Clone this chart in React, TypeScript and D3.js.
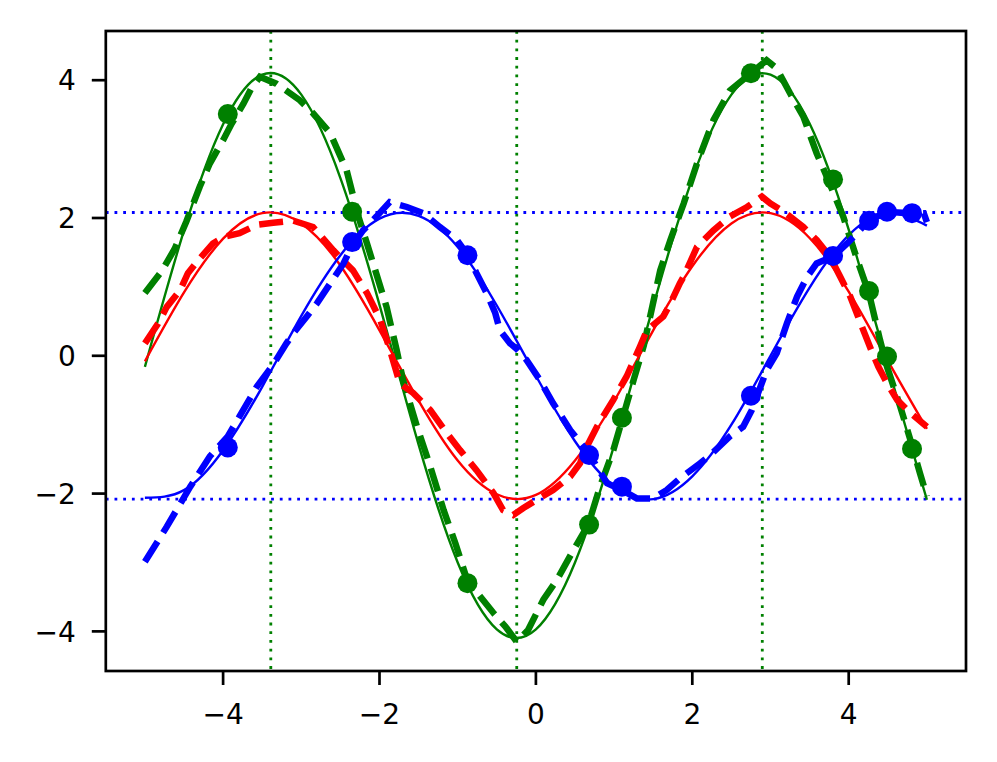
import React from 'react';
import * as d3 from 'd3';

// smooth model curves, read at x = -5 .. 5 in steps of 0.5
const gridX = [-5, -4.5, -4, -3.5, -3, -2.5, -2, -1.5, -1, -0.5, 0, 0.5, 1, 1.5, 2, 2.5, 3, 3.5, 4, 4.5, 5];
const greenSmooth = [-0.16, 1.82, 3.36, 4.08, 3.79, 2.58, 0.74, -1.29, -3.0, -3.97, -3.97, -3.0, -1.3, 0.72, 2.57, 3.79, 4.08, 3.37, 1.83, -0.15, -2.09];
const redSmooth = [-0.08, 0.92, 1.7, 2.07, 1.92, 1.31, 0.37, -0.65, -1.52, -2.01, -2.02, -1.52, -0.66, 0.37, 1.3, 1.92, 2.07, 1.71, 0.93, -0.07, -1.06];
const blueSmooth = [-2.06, -1.95, -1.37, -0.45, 0.58, 1.46, 1.99, 2.03, 1.58, 0.73, -0.29, -1.24, -1.89, -2.08, -1.75, -1.0, 0.0, 0.99, 1.75, 2.07, 1.89];

// noisy dashed curves: [x, y]
const greenNoisy: [number, number][] = [
  [-5.0, 0.91], [-4.79, 1.22], [-4.62, 1.55], [-4.47, 1.95], [-4.3, 2.45], [-4.17, 2.79], [-4.0, 3.13],
  [-3.89, 3.37], [-3.74, 3.66], [-3.64, 3.88], [-3.53, 4.05], [-3.32, 3.95], [-3.02, 3.71], [-2.85, 3.52],
  [-2.63, 3.23], [-2.42, 2.69], [-2.27, 2.02], [-2.16, 1.63], [-1.91, 0.71], [-1.78, 0.08], [-1.7, -0.35],
  [-1.52, -1.03], [-1.35, -1.61], [-1.18, -2.24], [-1.03, -2.72], [-0.88, -3.25], [-0.715, -3.49],
  [-0.545, -3.73], [-0.39, -3.93], [-0.245, -4.15], [-0.1, -3.98], [0.095, -3.54], [0.27, -3.25],
  [0.46, -2.86], [0.67, -2.45], [0.82, -1.9], [0.99, -1.37], [1.11, -0.9], [1.25, -0.35], [1.38, 0.15],
  [1.59, 1.24], [1.72, 1.68], [1.89, 2.21], [2.06, 2.79], [2.27, 3.42], [2.48, 3.85], [2.75, 4.1],
  [2.95, 4.29], [3.08, 4.17], [3.25, 3.81], [3.42, 3.47], [3.59, 2.94], [3.72, 2.6], [3.93, 2.02],
  [4.11, 1.39], [4.26, 0.9], [4.4, 0.23], [4.49, -0.16], [4.66, -0.74], [4.81, -1.3], [4.91, -1.7], [5.0, -2.04],
];
const redNoisy: [number, number][] = [
  [-5.0, 0.18], [-4.83, 0.47], [-4.72, 0.71], [-4.55, 0.95], [-4.45, 1.2], [-4.3, 1.41], [-4.13, 1.63],
  [-3.98, 1.73], [-3.79, 1.78], [-3.57, 1.9], [-3.36, 1.93], [-3.1, 1.96], [-2.85, 1.87], [-2.59, 1.53],
  [-2.34, 1.24], [-2.16, 0.91], [-1.99, 0.52], [-1.87, 0.1], [-1.74, -0.4], [-1.57, -0.54], [-1.35, -0.79],
  [-1.14, -1.12], [-0.97, -1.37], [-0.76, -1.66], [-0.545, -1.99], [-0.42, -2.24], [-0.29, -2.31],
  [-0.16, -2.21], [0.01, -2.09], [0.22, -1.95], [0.44, -1.75], [0.565, -1.56], [0.61, -1.41], [0.78, -1.03],
  [0.99, -0.64], [1.16, -0.3], [1.33, 0.13], [1.42, 0.37], [1.63, 0.57], [1.72, 0.76], [1.84, 1.05],
  [1.89, 1.15], [2.06, 1.58], [2.27, 1.82], [2.48, 2.02], [2.7, 2.16], [2.89, 2.31], [3.0, 2.21],
  [3.17, 2.09], [3.42, 1.87], [3.59, 1.68], [3.76, 1.44], [3.89, 1.15], [4.02, 0.86], [4.17, 0.42],
  [4.3, 0.05], [4.38, -0.16], [4.49, -0.4], [4.62, -0.64], [4.79, -0.83], [5.0, -1.03],
];
const blueNoisy: [number, number][] = [
  [-5.0, -2.99], [-4.72, -2.48], [-4.42, -1.9], [-4.17, -1.46], [-3.94, -1.17], [-3.79, -0.88], [-3.57, -0.45],
  [-3.36, -0.13], [-3.19, 0.18], [-3.1, 0.33], [-2.93, 0.57], [-2.8, 0.76], [-2.63, 1.05], [-2.46, 1.34],
  [-2.35, 1.6], [-2.21, 1.82], [-2.04, 2.02], [-1.87, 2.23], [-1.65, 2.16], [-1.44, 2.07], [-1.23, 1.87],
  [-1.01, 1.68], [-0.87, 1.46], [-0.76, 1.2], [-0.63, 0.91], [-0.52, 0.62], [-0.46, 0.37], [-0.33, 0.18],
  [-0.245, 0.1], [-0.12, -0.06], [0.05, -0.35], [0.22, -0.69], [0.44, -1.08], [0.61, -1.32], [0.69, -1.44],
  [0.91, -1.85], [1.1, -1.95], [1.29, -2.07], [1.5, -2.07], [1.67, -1.95], [1.84, -1.78], [2.1, -1.56],
  [2.23, -1.44], [2.48, -1.17], [2.65, -1.03], [2.76, -0.79], [2.95, -0.21], [3.08, 0.04], [3.21, 0.47],
  [3.34, 0.86], [3.47, 1.15], [3.59, 1.34], [3.81, 1.45], [3.98, 1.63], [4.11, 1.78], [4.25, 1.96],
  [4.49, 2.09], [4.81, 2.07], [4.96, 2.07], [5.0, 1.94],
];

// sampled points (same x for both series)
const sampleX = [-3.94, -2.35, -0.875, 0.68, 1.1, 2.75, 3.8, 4.26, 4.49, 4.81];
const greenSamples = [3.51, 2.09, -3.3, -2.45, -0.9, 4.1, 2.56, 0.94, -0.01, -1.35];
const blueSamples = [-1.33, 1.65, 1.46, -1.44, -1.9, -0.58, 1.45, 1.96, 2.09, 2.07];

// reference lines
const vLines = [-3.39, -0.245, 2.895];
const hLines = [2.08, -2.08];

const xTicks = [-4, -2, 0, 2, 4];
const yTicks = [-4, -2, 0, 2, 4];

const W = 997;
const H = 762;
const left = 105.8, right = 966, top = 31, bottom = 671;

const GREEN = '#008000';
const RED = '#ff0000';
const BLUE = '#0000ff';

const App = () => {
  const x = d3.scaleLinear().domain([-5.5, 5.5]).range([left, right]);
  const y = d3.scaleLinear().domain([-4.575, 4.714]).range([bottom, top]);

  const smooth = d3.line<number>().x((_, i) => x(gridX[i])).y((d) => y(d)).curve(d3.curveNatural);
  const noisy = d3.line<[number, number]>().x((d) => x(d[0])).y((d) => y(d[1]));
  const fmt = (v: number) => (v < 0 ? '\u2212' + Math.abs(v) : String(v));

  return (
    <svg width={W} height={H} style={{ position: 'absolute', left: 0, top: 0, background: '#fff' }}
      fontFamily="DejaVu Sans" fontSize={28}>
      <defs>
        <clipPath id="plot">
          <rect x={left} y={top} width={right - left} height={bottom - top} />
        </clipPath>
      </defs>
      <rect width={W} height={H} fill="#fff" />
      <g clipPath="url(#plot)">
        {vLines.map((v) => (
          <line key={'v' + v} x1={x(v)} x2={x(v)} y1={top} y2={bottom}
            stroke={GREEN} strokeWidth={2.8} strokeDasharray="2.8 5.9" />
        ))}
        {hLines.map((v) => (
          <line key={'h' + v} x1={left} x2={right} y1={y(v)} y2={y(v)}
            stroke={BLUE} strokeWidth={2.8} strokeDasharray="2.8 5.9" />
        ))}
        <path d={smooth(greenSmooth) || ''} fill="none" stroke={GREEN} strokeWidth={2.4} />
        <path d={smooth(redSmooth) || ''} fill="none" stroke={RED} strokeWidth={2.4} />
        <path d={smooth(blueSmooth) || ''} fill="none" stroke={BLUE} strokeWidth={2.4} />
        <path d={noisy(greenNoisy) || ''} fill="none" stroke={GREEN} strokeWidth={6.5} strokeDasharray="24 10.4" />
        <path d={noisy(redNoisy) || ''} fill="none" stroke={RED} strokeWidth={6.5} strokeDasharray="24 10.4" />
        <path d={noisy(blueNoisy) || ''} fill="none" stroke={BLUE} strokeWidth={6.5} strokeDasharray="24 10.4" />
        {sampleX.map((sx, i) => (
          <circle key={'g' + i} cx={x(sx)} cy={y(greenSamples[i])} r={10} fill={GREEN} />
        ))}
        {sampleX.map((sx, i) => (
          <circle key={'b' + i} cx={x(sx)} cy={y(blueSamples[i])} r={10} fill={BLUE} />
        ))}
      </g>
      <rect x={left} y={top} width={right - left} height={bottom - top} fill="none" stroke="#000" strokeWidth={2.7} />
      {xTicks.map((t) => (
        <g key={'xt' + t} transform={`translate(${x(t)},${bottom})`}>
          <line y2={14} stroke="#000" strokeWidth={2.7} />
          <text y={52.5} textAnchor="middle">{fmt(t)}</text>
        </g>
      ))}
      {yTicks.map((t) => (
        <g key={'yt' + t} transform={`translate(${left},${y(t)})`}>
          <line x2={-14} stroke="#000" strokeWidth={2.7} />
          <text x={-30} y={10.2} textAnchor="end">{fmt(t)}</text>
        </g>
      ))}
    </svg>
  );
};

export default App;
